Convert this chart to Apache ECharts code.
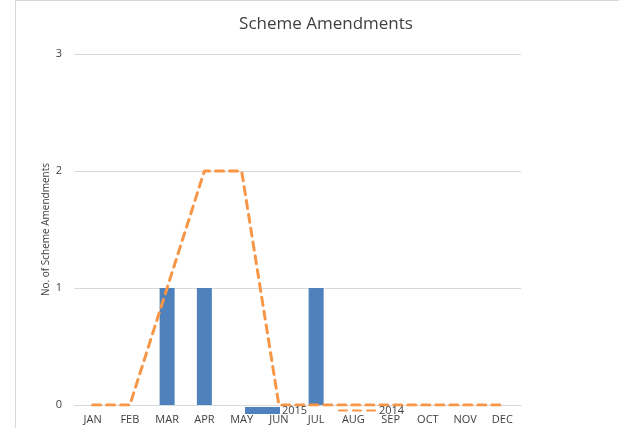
<!DOCTYPE html>
<html>
<head>
    <meta charset="utf-8">
    <title>Scheme Amendments</title>
    <script src="https://cdn.jsdelivr.net/npm/echarts@6.0.0/dist/echarts.min.js"></script>
    <style>
        html, body { margin: 0; padding: 0; background: #fff; }
        #chart { width: 619px; height: 428px; }
    </style>
</head>
<body>
    <div id="chart"></div>
    <script>
        // 数据
        const months = ['JAN', 'FEB', 'MAR', 'APR', 'MAY', 'JUN', 'JUL', 'AUG', 'SEP', 'OCT', 'NOV', 'DEC'];
        const values2015 = [null, null, 1, 1, null, null, 1, null, null, null, null, null];
        const values2014 = [0, 0, 1, 2, 2, 0, 0, 0, 0, 0, 0, 0];
        const yTicks = [0, 1, 2, 3];

        const chart = echarts.init(document.getElementById('chart'));

        const option = {
            animation: false,
            title: {
                text: 'Scheme Amendments',
                left: 321,
                textAlign: 'center',
                top: 11,
                textStyle: { fontFamily: 'Open Sans', fontSize: 17, fontWeight: 'normal', color: '#404040' }
            },
            legend: [{
                data: [{ name: '2015', icon: 'rect' }],
                left: 245,
                top: 405,
                padding: 0,
                itemWidth: 35,
                itemHeight: 7,
                textStyle: { fontSize: 11, color: '#404040', fontFamily: 'Open Sans', padding: [0, 0, 0, -3] }
            }, {
                data: [{ name: '2014', itemStyle: { opacity: 0 } }],
                left: 338,
                top: 405,
                padding: 0,
                itemWidth: 38,
                itemHeight: 7,
                textStyle: { fontSize: 11, color: '#404040', fontFamily: 'Open Sans', padding: [0, 0, 0, -3] }
            }],
            grid: { left: 74, right: 98, top: 54, bottom: 23 },
            xAxis: {
                type: 'category',
                data: months,
                axisLine: { lineStyle: { color: '#d9d9d9' } },
                axisTick: { show: false },
                axisLabel: { color: '#404040', fontSize: 11, margin: 9, fontFamily: 'Open Sans' }
            },
            yAxis: {
                type: 'value',
                min: yTicks[0],
                max: yTicks[yTicks.length - 1],
                interval: 1,
                name: 'No. of Scheme Amendments',
                nameLocation: 'middle',
                nameGap: 23,
                nameMoveOverlap: false,
                nameTextStyle: { color: '#404040', fontSize: 10, fontFamily: 'Open Sans' },
                axisLine: { show: false },
                axisTick: { show: false },
                axisLabel: { color: '#404040', fontSize: 11, margin: 12, fontFamily: 'Open Sans' },
                splitLine: { lineStyle: { color: '#d9d9d9' } }
            },
            series: [{
                name: '2015',
                type: 'bar',
                data: values2015,
                barWidth: 15,
                itemStyle: { color: '#4F81BD' }
            }, {
                name: '2014',
                type: 'line',
                data: values2014,
                symbol: 'none',
                itemStyle: { color: '#F79646' },
                lineStyle: { color: '#F79646', width: 3, type: [8, 6], cap: 'round' },
                z: 3
            }],
            graphic: [{
                type: 'line',
                shape: { x1: 15.5, y1: 0, x2: 15.5, y2: 428 },
                style: { stroke: '#d9d9d9', lineWidth: 1 }
            }, {
                type: 'line',
                shape: { x1: 15, y1: 0.5, x2: 619, y2: 0.5 },
                style: { stroke: '#d9d9d9', lineWidth: 1 }
            }]
        };

        chart.setOption(option);
    </script>
</body>
</html>
